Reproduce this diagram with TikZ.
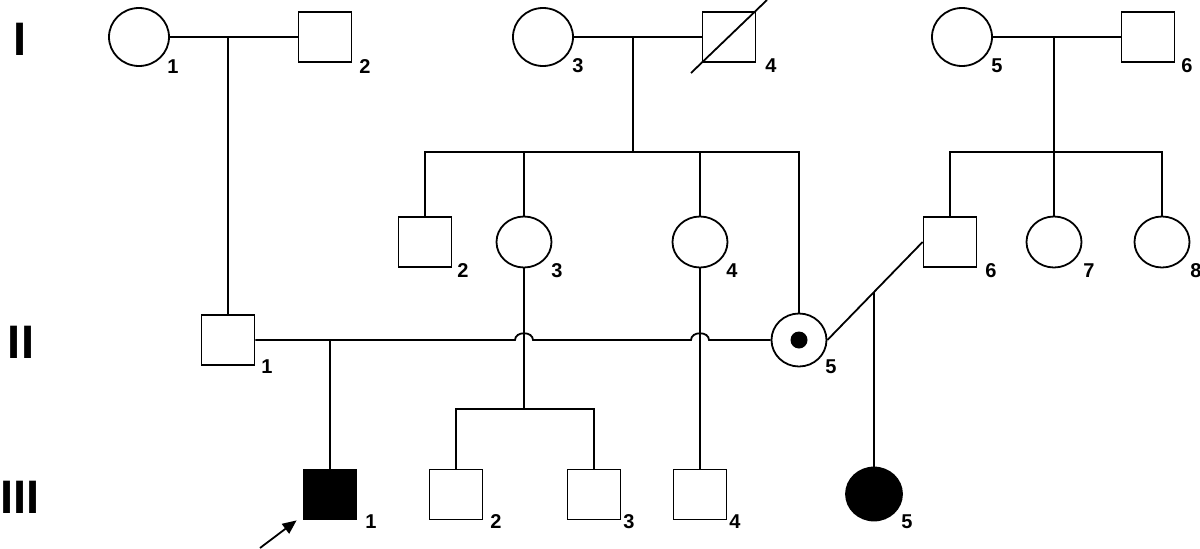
\documentclass[tikz,border=0pt]{standalone}
\usepackage{fontspec}
\setmainfont{Liberation Sans}
\usetikzlibrary{shapes.geometric,arrows.meta,calc}
\begin{document}
\begin{tikzpicture}[x=1pt,y=-1pt,
  line width=1.8pt,
  male/.style={draw,rectangle,minimum width=53pt,minimum height=50pt,inner sep=0pt},
  female/.style={draw,ellipse,inner sep=0pt},
  fem1/.style={female,minimum width=60pt,minimum height=58pt},
  fem2/.style={female,minimum width=55pt,minimum height=51pt},
  num/.style={anchor=base,font=\fontsize{20}{20}\selectfont\bfseries,inner sep=0pt},
  gen/.style={anchor=base,font=\fontsize{47}{47}\selectfont\bfseries,inner sep=0pt},
  affected/.style={fill=black},
]
\useasboundingbox (0,0) rectangle (1200,549);

% generation labels
\node[gen] (g1) at (20,55) {I};
\node[gen] (g2) at (21,358) {II};
\node[gen] (g3) at (20,513) {III};

% generation I
\node[fem1] (i1) at (139,37) {};
\node[male] (i2) at (325,37) {};
\node[fem1] (i3) at (543,37) {};
\node[male] (i4) at (729,37) {};
\node[fem1] (i5) at (962,37) {};
\node[male] (i6) at (1148,37) {};

% generation II
\node[male] (ii1) at (228,340) {};
\node[male] (ii2) at (425,242) {};
\node[fem2] (ii3) at (524,242) {};
\node[fem2] (ii4) at (700,242) {};
\node[female,minimum width=55pt,minimum height=53pt] (ii5) at (799,340) {};
\node[circle,fill,inner sep=0pt,minimum size=17pt] (ii5d) at (ii5.center) {};
\node[male] (ii6) at (950,242) {};
\node[fem2] (ii7) at (1054,242) {};
\node[fem2] (ii8) at (1162,242) {};

% generation III
\node[male,affected] (iii1) at (330,494.5) {};
\node[male] (iii2) at (456,494.5) {};
\node[male] (iii3) at (594,494.5) {};
\node[male] (iii4) at (700,494.5) {};
\node[female,affected,minimum width=56pt,minimum height=53pt] (iii5) at (874,494) {};

% coordinates
\coordinate (m12) at (228,37);
\coordinate (m34) at (633,37);
\coordinate (s34) at (633,152);
\coordinate (m56) at (1054,37);
\coordinate (s56) at (1054,152);
\coordinate (m15) at (330,340);
\coordinate (s3) at (524,409);
\coordinate (b3) at (ii3.south |- ii1.east);
\coordinate (b4) at (ii4.south |- ii1.east);

% generation I couples
\draw (i1) -- (i2);
\draw (m12) -- (ii1);
\draw (i3) -- (i4);
\draw (m34) -- (s34);
\draw ([shift={(-38,36)}]i4.center) -- ([shift={(38,-37)}]i4.center);
\draw (i5) -- (i6);
\draw (m56) -- (ii7.north);

% sibships II
\draw (ii2.north) -- (ii2.north |- s34) -- (ii5.north |- s34) -- (ii5.north);
\draw (ii3.north) -- (ii3.north |- s34);
\draw (ii4.north) -- (ii4.north |- s34);
\draw (ii6.north) -- (ii6.north |- s56) -- (ii8.north |- s56) -- (ii8.north);

% marriage II-1 -- II-5 with hops
\draw (ii1.east) -- ($(b3)+(-9,0)$) .. controls ($(b3)+(-9,-9)$) and ($(b3)+(9,-9)$) .. ($(b3)+(9,0)$)
  -- ($(b4)+(-9,0)$) .. controls ($(b4)+(-9,-9)$) and ($(b4)+(9,-9)$) .. ($(b4)+(9,0)$)
  -- (ii5.west);
\draw (m15) -- (iii1.north);

% II-3 children
\draw (ii3.south) -- (s3);
\draw (iii2.north) -- (iii2.north |- s3) -- (iii3.north |- s3) -- (iii3.north);
\draw (ii4.south) -- (iii4.north);

% marriage II-5 -- II-6
\draw (ii5.east) -- (ii6.west);
\coordinate (m56b) at ($(ii5.east)!0.49!(ii6.west)$);
\draw (m56b) -- (m56b |- iii5.north);

% proband arrow
\coordinate (arrtail) at (260,548);
\draw[-{Triangle[length=14pt,width=12pt]}] (arrtail) -- ([shift={(-6,0)}]iii1.south west);

% number labels
\node[num] (n-i1) at (173,73) {1};
\node[num] (n-i2) at (365,73) {2};
\node[num] (n-i3) at (578,72) {3};
\node[num] (n-i4) at (771,72) {4};
\node[num] (n-i5) at (997,72) {5};
\node[num] (n-i6) at (1187,72) {6};
\node[num] (n-ii1) at (267,373) {1};
\node[num] (n-ii2) at (463,277) {2};
\node[num] (n-ii3) at (557,277) {3};
\node[num] (n-ii4) at (732,277) {4};
\node[num] (n-ii5) at (831,373) {5};
\node[num] (n-ii6) at (991,277) {6};
\node[num] (n-ii7) at (1089,277) {7};
\node[num] (n-ii8) at (1196,277) {8};
\node[num] (n-iii1) at (371,528) {1};
\node[num] (n-iii2) at (496,528) {2};
\node[num] (n-iii3) at (629,528) {3};
\node[num] (n-iii4) at (735,528) {4};
\node[num] (n-iii5) at (907,528) {5};
\end{tikzpicture}
\end{document}
